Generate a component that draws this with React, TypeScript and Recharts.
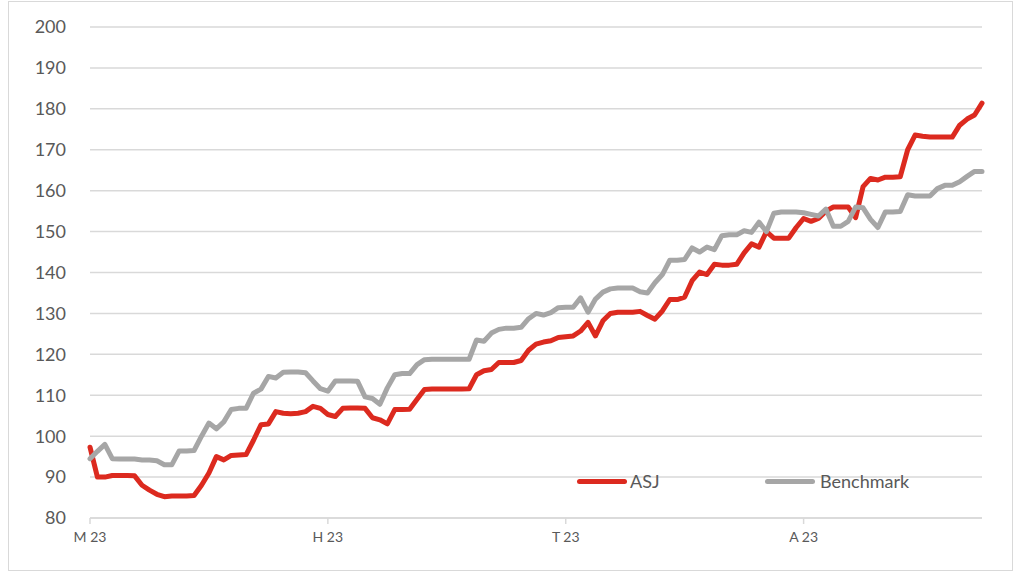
import React from "react";
import { LineChart, Line, XAxis, YAxis, CartesianGrid } from "recharts";

const seriesNames = ["ASJ", "Benchmark"];
const seriesColors = ["#dc2a1f", "#a6a6a6"];

const xTicks = [0, 32, 64, 96];
const xTickLabels = ["M 23", "H 23", "T 23", "A 23"];
const yTicks = [80, 90, 100, 110, 120, 130, 140, 150, 160, 170, 180, 190, 200];

const asj = [
  97.3, 90, 90, 90.4, 90.4, 90.4, 90.3, 88, 86.8, 85.8,
  85.2, 85.4, 85.4, 85.4, 85.5, 88, 91, 95, 94.2, 95.3,
  95.4, 95.5, 99, 102.8, 103, 106, 105.6, 105.5, 105.6, 106,
  107.3, 106.8, 105.3, 104.8, 106.8, 106.9, 106.9, 106.8, 104.5, 104,
  103, 106.5, 106.5, 106.6, 109, 111.4, 111.5, 111.5, 111.5, 111.5,
  111.5, 111.6, 115, 116, 116.3, 118, 118, 118, 118.5, 121,
  122.5, 123, 123.3, 124.1, 124.3, 124.5, 125.7, 127.8, 124.5, 128.2,
  130, 130.3, 130.3, 130.3, 130.5, 129.5, 128.6, 130.6, 133.4, 133.4,
  134, 138, 140.1, 139.5, 142, 141.8, 141.8, 142, 144.8, 147,
  146.2, 150, 148.4, 148.4, 148.4, 151, 153.2, 152.5, 153.2, 155,
  156, 156, 156, 153.4, 161, 163, 162.6, 163.3, 163.3, 163.4,
  170, 173.6, 173.3, 173.1, 173.1, 173.1, 173.1, 176, 177.5, 178.5,
  181.4,
];

const benchmark = [
  94.5, 96.3, 98, 94.5, 94.4, 94.4, 94.4, 94.2, 94.2, 94,
  93, 93, 96.4, 96.4, 96.5, 100, 103.2, 101.8, 103.5, 106.5,
  106.8, 106.8, 110.5, 111.5, 114.6, 114.2, 115.6, 115.7, 115.7, 115.5,
  113.5, 111.6, 111, 113.5, 113.5, 113.5, 113.4, 109.6, 109.2, 107.8,
  111.8, 115, 115.3, 115.3, 117.5, 118.7, 118.8, 118.8, 118.8, 118.8,
  118.8, 118.8, 123.5, 123.2, 125.2, 126.1, 126.4, 126.4, 126.6, 128.7,
  130, 129.6, 130.2, 131.4, 131.5, 131.5, 133.8, 130.3, 133.5, 135.2,
  136, 136.2, 136.2, 136.2, 135.3, 135, 137.5, 139.5, 143, 143,
  143.2, 146, 145, 146.2, 145.6, 149, 149.2, 149.2, 150.2, 149.8,
  152.3, 150, 154.5, 154.8, 154.8, 154.8, 154.6, 154.2, 153.8, 155.5,
  151.3, 151.3, 152.5, 156, 155.8, 153, 151, 154.8, 154.8, 154.9,
  159, 158.7, 158.7, 158.7, 160.5, 161.3, 161.3, 162.2, 163.5, 164.7,
  164.7,
];

const data = asj.map((v, i) => ({ i, asj: v, benchmark: benchmark[i] }));

const FONT = "Lato, 'Open Sans', sans-serif";
const TEXT = "#595959";
const GRID = "#d9d9d9";

export default function App() {
  return (
    <div style={{ position: "absolute", left: 0, top: 0, width: 1022, height: 578, background: "#fff", fontFamily: FONT }}>
      <div style={{ position: "absolute", left: 8, top: 1, width: 1005, height: 570, border: "1px solid #d9d9d9", boxSizing: "border-box" }} />
      <LineChart
        width={1022}
        height={578}
        data={data}
        margin={{ top: 27, right: 40, bottom: 0, left: 0 }}
        style={{ position: "absolute", left: 0, top: 0 }}
      >
        <CartesianGrid horizontal vertical={false} stroke={GRID} strokeWidth={1.5} />
        <XAxis
          dataKey="i"
          type="number"
          domain={[0, 120]}
          ticks={xTicks}
          tickFormatter={(v: number) => xTickLabels[xTicks.indexOf(v)] ?? ""}
          axisLine={{ stroke: GRID, strokeWidth: 1.5 }}
          tickLine={{ stroke: GRID, strokeWidth: 1.5 }}
          tickSize={6}
          tickMargin={8}
          tick={{ fill: TEXT, fontSize: 14, fontFamily: FONT }}
          height={60}
        />
        <YAxis
          domain={[80, 200]}
          ticks={yTicks}
          width={90}
          axisLine={false}
          tickLine={false}
          tickSize={0}
          tickMargin={24}
          tick={{ fill: TEXT, fontSize: 18, fontFamily: FONT }}
          interval={0}
        />
        <Line
          type="linear"
          dataKey="asj"
          name={seriesNames[0]}
          stroke={seriesColors[0]}
          strokeWidth={5}
          dot={false}
          strokeLinejoin="round"
          strokeLinecap="round"
          isAnimationActive={false}
        />
        <Line
          type="linear"
          dataKey="benchmark"
          name={seriesNames[1]}
          stroke={seriesColors[1]}
          strokeWidth={5}
          dot={false}
          strokeLinejoin="round"
          strokeLinecap="round"
          isAnimationActive={false}
        />
      </LineChart>
      {seriesNames.map((name, k) => (
        <div
          key={name}
          style={{
            position: "absolute",
            left: k === 0 ? 577 : 765,
            top: 470,
            height: 22,
            display: "flex",
            alignItems: "center",
            color: TEXT,
            fontSize: 18,
            fontFamily: FONT,
          }}
        >
          <div style={{ width: 50, height: 5, borderRadius: 3, background: seriesColors[k], marginRight: k === 0 ? 3 : 5 }} />
          <span>{name}</span>
        </div>
      ))}
    </div>
  );
}
